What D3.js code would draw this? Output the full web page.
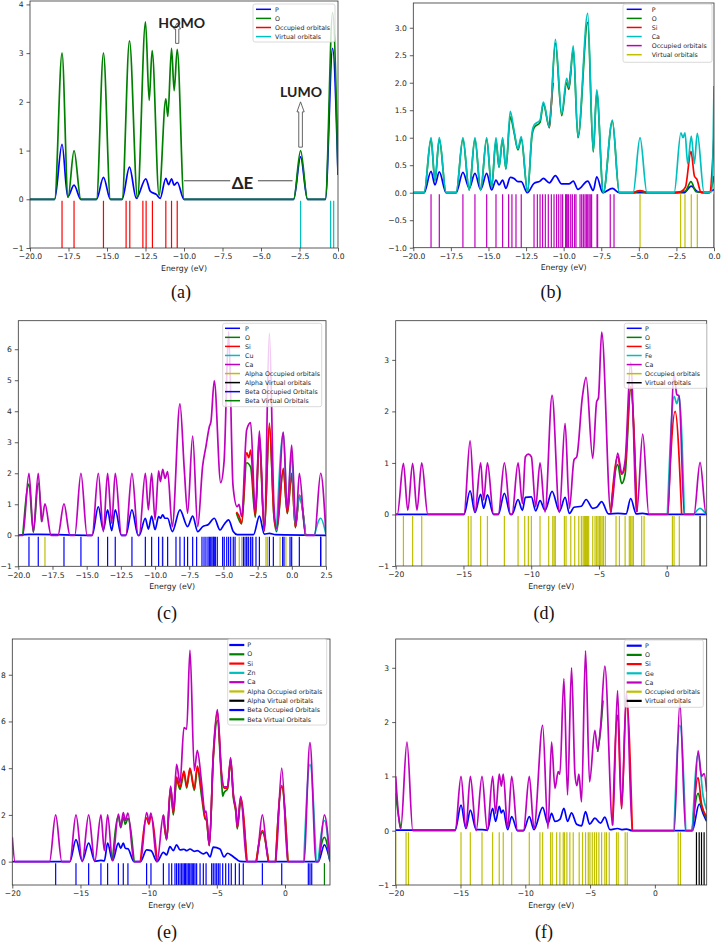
<!DOCTYPE html>
<html><head><meta charset="utf-8">
<script src="https://cdn.jsdelivr.net/npm/d3@7"></script>
<style>
body{margin:0;background:#fff;}
svg{display:block;font-family:"DejaVu Sans",sans-serif;}
</style></head><body>
<svg id="chart" width="721" height="942"></svg>
<script>
// ---------------- Panel (a) ----------------
const pA = [[-20,0],[-18.4,0],[-17.92,1.13],[-17.55,0.05],[-17.14,0.29],[-16.7,0],[-15.68,0],[-15.23,0.45],[-14.78,0],[-14.02,0],[-13.54,0.66],[-13.1,0.02],[-12.48,0.42],[-12.2,0.17],[-12.07,0.14],[-11.8,0.1],[-11.55,0.02],[-11.18,0.43],[-11.0,0.3],[-10.81,0.42],[-10.64,0.29],[-10.44,0.35],[-10.0,0],[-2.88,0],[-2.43,0.87],[-1.98,0],[-0.82,0],[-0.35,3.1],[0,0.5]];
const oA = [[-20,0],[-18.4,0],[-17.92,3.0],[-17.53,0.04],[-17.14,1.0],[-16.7,0],[-15.68,0],[-15.23,3.0],[-14.78,0],[-14.02,0],[-13.54,3.25],[-13.02,0.02],[-12.5,3.64],[-12.26,2.03],[-12.07,3.05],[-11.62,0.08],[-11.18,2.06],[-11.05,1.7],[-10.81,3.1],[-10.64,2.23],[-10.44,3.08],[-10.0,0],[-2.88,0],[-2.43,1.0],[-1.98,0],[-0.82,0],[-0.35,3.83],[0,0.5]];
const occA = [-17.92,-17.14,-15.23,-13.76,-13.52,-12.67,-12.46,-12.05,-11.18,-10.81,-10.44];
const virA = [-2.43,-0.48,-0.28];
const legendA = ["P","O","Occupied orbitals","Virtual orbitals"];
const xTicksA = [-20,-17.5,-15,-12.5,-10,-7.5,-5,-2.5,0];
const yTicksA = [-1,0,1,2,3,4];

// ---------------- Panel (b) ----------------
const pB = [[-20,0],[-19.28,0],[-18.82,0.39],[-18.56,0.14],[-18.27,0.38],[-17.82,0],[-17.15,0],[-16.7,0.37],[-16.28,0.08],[-15.9,0.35],[-15.52,0.06],[-15.12,0.35],[-14.79,0.05],[-14.5,0.23],[-14.3,0.14],[-14.06,0.23],[-13.84,0.08],[-13.55,0.28],[-13.3,0.26],[-13.04,0.2],[-12.82,0.2],[-12.42,0],[-11.97,0.17],[-11.57,0.21],[-11.35,0.26],[-10.95,0.18],[-10.55,0.31],[-10.13,0.16],[-9.65,0.16],[-9.36,0.21],[-9.05,0.06],[-8.4,0.21],[-8.03,0.04],[-7.8,0.29],[-7.4,0],[-6.76,0.08],[-6.3,0],[-2.0,0],[-1.51,0.12],[-1.1,0.02],[-0.5,0],[0,0.06]];
const oB = [[-20,0],[-19.28,0],[-18.82,0.97],[-18.56,0.22],[-18.27,0.97],[-17.82,0],[-17.15,0],[-16.7,0.97],[-16.28,0.05],[-15.9,0.97],[-15.52,0.05],[-15.12,0.97],[-14.79,0.1],[-14.5,0.95],[-14.3,0.46],[-14.06,0.97],[-13.84,0.43],[-13.55,1.38],[-13.3,1.1],[-13.04,0.78],[-12.82,0.98],[-12.4,0.02],[-12.1,1.05],[-11.97,1.18],[-11.57,1.28],[-11.35,1.62],[-10.95,1.18],[-10.55,2.72],[-10.13,1.4],[-9.8,2.0],[-9.65,1.88],[-9.36,2.62],[-9.05,1.0],[-8.4,3.1],[-8.03,0.74],[-7.8,1.82],[-7.36,0],[-6.76,1.3],[-6.3,0],[-5.38,0],[-4.92,0.03],[-4.46,0],[-2.6,0],[-1.9,0.03],[-1.53,0.2],[-1.2,0.02],[-0.3,0],[0,0.3]];
const siB = [[-10.95,1.2],[-10.7,2.0],null,[-9.65,1.9],[-9.5,2.3],null,[-5.38,0],[-4.92,0.04],[-4.46,0],null,[-2.65,0],[-2.2,0.02],[-1.9,0.1],[-1.53,0.75],[-1.3,0.3],[-1.15,0.25],[-0.85,0],[-0.3,0],[0,1.05]];
const caB = [[-20,0],[-19.28,0],[-18.82,1.0],[-18.56,0.23],[-18.27,1.0],[-17.82,0],[-17.15,0],[-16.7,1.0],[-16.28,0.05],[-15.9,1.0],[-15.52,0.05],[-15.12,1.0],[-14.79,0.1],[-14.5,1.0],[-14.3,0.47],[-14.06,1.0],[-13.84,0.44],[-13.55,1.48],[-13.3,1.13],[-13.04,0.8],[-12.82,1.02],[-12.4,0.02],[-12.1,1.1],[-11.97,1.23],[-11.57,1.32],[-11.35,1.65],[-10.95,1.2],[-10.55,2.79],[-10.13,1.44],[-9.8,2.08],[-9.65,1.92],[-9.36,2.67],[-9.05,1.02],[-8.4,3.26],[-8.03,0.76],[-7.8,1.87],[-7.36,0],[-6.76,1.32],[-6.3,0],[-5.38,0],[-4.92,1.0],[-4.46,0],[-2.65,0],[-2.2,1.09],[-2.06,1.0],[-1.93,1.09],[-1.75,0.53],[-1.51,1.03],[-1.31,0.53],[-1.11,1.08],[-0.66,0],[-0.15,0.02],[0,1.94]];
const occB = [-18.82,-18.27,-16.7,-15.9,-15.12,-14.5,-14.06,-13.66,-13.44,-13.17,-12.82,-11.97,-11.75,-11.57,-11.4,-11.22,-11.02,-10.82,-10.64,-10.47,-10.33,-10.18,-10.07,-9.87,-9.82,-9.76,-9.67,-9.53,-9.42,-9.27,-9.18,-8.91,-8.8,-8.69,-8.58,-8.49,-8.4,-8.31,-8.23,-8.14,-7.78,-7.74,-6.9,-6.65];
const virB = [-4.92,-2.22,-1.93,-1.51,-1.11,-0.02];
const legendB = ["P","O","Si","Ca","Occupied orbitals","Virtual orbitals"];
const xTicksB = [-20,-17.5,-15,-12.5,-10,-7.5,-5,-2.5,0];
const yTicksB = [-1,-0.5,0,0.5,1,1.5,2,2.5,3];

// ---------------- Panel (c) ----------------
const pC = [[-20,0],[-19.22,0.03],[-18.54,0.03],[-14.6,0],[-14.15,0.92],[-13.78,0.17],[-13.47,0.82],[-13.17,0.15],[-12.91,0.82],[-12.46,0],[-12.14,0],[-11.69,0.82],[-11.24,0],[-11.16,0],[-10.71,0.55],[-10.49,0.2],[-10.25,0.62],[-10.0,0.18],[-9.74,0.6],[-9.61,0.55],[-9.44,0.66],[-9.27,0.55],[-9.08,0.55],[-8.74,0.12],[-8.18,0.82],[-7.62,0.28],[-7.25,0.62],[-6.88,0.12],[-6.52,0.28],[-6.1,0.35],[-5.67,0.55],[-5.25,0.17],[-4.95,0.35],[-4.62,0.5],[-4.28,0.12],[-3.98,0.02],[-2.8,0.02],[-2.37,0.62],[-2.01,0.04],[-1.64,0.06],[-1.2,0.02],[2.5,0]];
const oC = [[-19.67,0],[-19.22,1.65],[-18.9,0.1],[-18.54,1.68],[-18.29,0.44],null,[-4.05,0.72],[-3.67,0.37],[-3.3,2.34],[-3.01,2.2],[-2.67,0.58],[-2.37,3.0],[-2.01,0.14],[-1.64,3.5],[-1.3,0.58],[-1.11,0.12],[-0.62,2.1],[-0.33,0.7],[-0.01,1.95],[0.26,0.25],[0.55,1.25],[1.0,0]];
const siC = [[-4.05,0.75],[-3.86,0.62],[-3.67,0.39],[-3.3,2.67],[-3.15,2.5],[-3.01,2.75],[-2.67,0.62],[-2.37,3.18],[-2.01,0.15],[-1.64,3.62],[-1.3,0.6],[-1.11,0.2],[-0.62,2.16],[-0.33,0.72],[-0.01,2.0],[0.26,0.25],[0.55,1.3],[1.0,0]];
const cuC = [[-1.11,0.15],[-0.62,3.3],[-0.33,0.9],[-0.01,2.6],[0.26,0.35],[0.55,1.27],[1.0,0],null,[1.66,0],[2.11,0.55],[2.5,0.02]];
const caC = [[-20,0],[-19.67,0],[-19.22,2.0],[-18.9,0.12],[-18.54,2.0],[-18.29,0.44],[-18.05,1.01],[-17.6,0],[-17.1,0],[-16.66,1.01],[-16.22,0],[-15.87,0],[-15.42,2.0],[-14.97,0],[-14.6,0],[-14.15,2.0],[-13.78,0.12],[-13.47,2.0],[-13.17,0.39],[-12.91,2.0],[-12.46,0],[-12.14,0],[-11.69,2.0],[-11.24,0],[-11.16,0],[-10.71,2.0],[-10.49,0.82],[-10.25,2.0],[-10.0,0.5],[-9.74,2.08],[-9.61,1.73],[-9.44,2.13],[-9.27,1.84],[-9.08,2.05],[-8.74,0.28],[-8.18,4.24],[-7.86,2.1],[-7.62,0.71],[-7.25,3.2],[-6.88,0.28],[-6.52,2.24],[-6.28,2.86],[-6.03,3.5],[-5.91,3.67],[-5.67,4.98],[-5.2,1.7],[-4.95,2.4],[-4.62,6.57],[-4.3,1.6],[-4.0,0.92],[-3.86,1.0],[-3.67,0.6],[-3.3,3.4],[-3.01,3.63],[-2.67,0.75],[-2.37,3.37],[-2.01,0.17],[-1.64,6.52],[-1.3,0.9],[-1.11,0.22],[-0.62,3.33],[-0.33,0.8],[-0.01,2.91],[0.3,0.32],[0.55,2.0],[1.0,0],[1.66,0],[2.11,2.0],[2.5,0.02]];
const alphaOccC = [-18.05,-9.47,-5.74,-3.84,-3.66,-3.3,-3.18,-3.06,-2.93,-1.89,-1.79,-0.86,-0.43];
const alphaVirC = [2.11];
const betaOccC = [-19.22,-18.54,-16.66,-15.42,-14.15,-13.47,-12.91,-11.69,-10.71,-10.25,-9.74,-9.44,-9.08,-8.47,-8.18,-7.86,-7.62,-7.25,-6.96,-6.57,-6.42,-6.28,-6.13,-6.03,-5.93,-5.84,-5.74,-5.67,-5.59,-5.45,-5.06,-4.94,-4.76,-4.62,-4.47,-4.28,-4.15,-3.54,-3.42,-3.3,-3.18,-3.01,-2.86,-2.62,-2.37,-1.64,-1.35,-0.67,-0.57,-0.13,-0.01,0.55,2.11];
const betaVirC = [];
const legendC = ["P","O","Si","Cu","Ca","Alpha Occupied orbitals","Alpha Virtual orbitals","Beta Occupied Orbitals","Beta Virtual Orbitals"];
const xTicksC = [-20,-17.5,-15,-12.5,-10,-7.5,-5,-2.5,0,2.5];
const yTicksC = [-1,0,1,2,3,4,5,6];

// ---------------- Panel (d) ----------------
const pD = [[-20,0],[-14.96,0],[-14.51,0.46],[-14.15,0.04],[-13.73,0.39],[-13.51,0.12],[-13.23,0.38],[-12.78,0],[-12.43,0],[-11.98,0.41],[-11.53,0],[-11.42,0],[-10.97,0.29],[-10.65,0.08],[-10.43,0.33],[-9.99,0.34],[-9.67,0.07],[-9.35,0.27],[-8.98,0.08],[-8.46,0.45],[-7.92,0.06],[-7.5,0.33],[-7.18,0.02],[-6.84,0.14],[-6.3,0.16],[-5.95,0.29],[-5.46,0.12],[-5.17,0.14],[-4.8,0.25],[-4.3,0.01],[-3.6,0.02],[-3.0,0.01],[-2.66,0.31],[-2.25,0.01],[-1.77,0.02],[-1.3,0],[2.95,0]];
const oD = [[-4.13,0.04],[-3.62,0.97],[-3.32,0.6],[-3.07,0.78],[-2.66,2.42],[-2.21,0.05]];
const siD = [[-4.13,0.04],[-3.62,1.12],[-3.32,0.78],[-3.07,0.95],[-2.66,2.48],[-2.21,0.05],null,[0.08,0],[0.62,2.0],[1.1,0]];
const feD = [[0.05,0],[0.55,2.29],[0.74,2.15],[0.91,2.29],[1.3,0],null,[2.01,0],[2.46,0.12],[2.91,0]];
const caD = [[-20,0],[-19.88,0],[-19.43,0.99],[-19.11,0.08],[-18.75,0.99],[-18.43,0.08],[-18.08,1.0],[-17.63,0],[-14.96,0],[-14.51,1.43],[-14.15,0.05],[-13.73,1.0],[-13.51,0.28],[-13.23,1.0],[-12.78,0],[-12.43,0],[-11.98,1.0],[-11.53,0],[-11.42,0],[-10.97,1.0],[-10.65,0.21],[-10.43,1.12],[-10.21,1.17],[-9.99,1.12],[-9.67,0.15],[-9.35,1.0],[-8.98,0.05],[-8.46,2.31],[-7.92,0.04],[-7.5,1.77],[-7.18,0.12],[-6.84,1.06],[-6.64,1.12],[-6.22,2.29],[-5.95,2.66],[-5.46,1.09],[-5.17,2.19],[-5.04,2.26],[-4.8,3.54],[-4.13,0.04],[-3.62,1.19],[-3.32,0.8],[-3.07,1.04],[-2.66,2.95],[-2.21,0.05],[-1.77,1.56],[-1.32,0],[0.05,0],[0.55,2.72],[0.74,2.33],[0.91,2.3],[1.3,0],[2.01,0],[2.46,1.01],[2.91,0],[2.95,0]];
const occD = [-19.43,-18.75,-18.08,-14.64,-14.44,-13.73,-13.23,-11.98,-10.97,-10.48,-10.21,-9.99,-9.35,-8.71,-8.41,-8.31,-8.22,-7.55,-7.43,-7.08,-6.79,-6.49,-6.3,-6.17,-6.08,-6.0,-5.93,-5.85,-5.76,-5.46,-5.29,-5.17,-5.07,-4.97,-4.87,-4.77,-4.67,-4.53,-3.74,-3.49,-3.07,-2.76,-2.66,-2.56,-2.46,-1.85,-1.67,0.42,0.54,0.93];
const virD = [2.46];
const legendD = ["P","O","Si","Fe","Ca","Occupied orbitals","Virtual orbitals"];
const xTicksD = [-20,-15,-10,-5,0];
const yTicksD = [-1,0,1,2,3];

// ---------------- Panel (e) ----------------
const pE = [[-20,0],[-15.78,0],[-15.33,0.94],[-14.87,0.02],[-14.4,0.79],[-13.95,0.02],[-13.5,0.05],[-13.25,0.03],[-13.01,0.79],[-12.65,0.04],[-12.22,0.79],[-12.05,0.57],[-11.86,0.79],[-11.71,0.57],[-11.52,0.55],[-11.07,0],[-10.6,0],[-10.15,0.5],[-9.83,0.47],[-9.38,0],[-8.92,0.4],[-8.68,0.29],[-8.44,0.64],[-8.19,0.47],[-7.95,0.72],[-7.7,0.5],[-7.41,0.53],[-7.21,0.47],[-6.97,0.54],[-6.65,0.44],[-6.43,0.47],[-5.99,0.33],[-5.75,0.4],[-5.5,0.2],[-5.26,0.62],[-4.77,0.54],[-4.47,0.2],[-4.21,0.36],[-3.91,0.26],[-3.55,0.1],[-3.3,0.01],[-2.8,0],[2.44,0],[2.89,0.72],[3.3,0.02]];
const oE = [[-12.65,0.05],[-12.22,1.95],[-12.05,1.45],[-11.86,1.9],[-11.71,1.6],[-11.52,1.85],[-11.07,0],null,[-8.92,1.95],[-8.68,0.93],[-8.39,3.1],[-8.19,2.0],[-7.95,3.5],[-7.7,3.09],[-7.41,3.8],[-7.21,3.15],[-6.97,3.95],[-6.65,3.05],[-6.43,4.0],[-6.11,2.76],[-5.87,1.85],[-5.75,1.75],[-5.55,0.69],[-5.26,4.4],[-4.96,6.05],[-4.65,3.4],[-4.57,2.8],[-4.47,2.95],[-4.21,3.12],[-3.99,4.3],[-3.79,2.75],[-3.59,2.05],[-3.5,1.4],[-3.25,2.55],[-2.8,0],null,[-2.11,0],[-1.66,1.25],[-1.21,0],null,[-0.69,0],[-0.24,3.2],[0.21,0],null,[2.44,0],[2.89,1.04],[3.3,0.02]];
const siE = [[-10.6,0],[-10.15,1.87],[-9.98,1.6],[-9.83,1.95],[-9.38,0],null,[-8.92,1.98],[-8.68,0.95],[-8.39,3.19],[-8.19,2.07],[-7.95,3.62],[-7.7,3.19],[-7.41,3.88],[-7.21,3.23],[-6.97,4.0],[-6.65,3.12],[-6.43,4.09],[-6.11,3.0],[-5.87,1.9],[-5.75,1.8],[-5.55,0.69],[-5.26,4.5],[-4.96,6.41],[-4.65,3.7],[-4.47,3.15],[-4.21,3.15],[-3.99,4.4],[-3.79,2.85],[-3.59,2.1],[-3.5,1.45],[-3.25,2.75],[-2.8,0],null,[-2.11,0],[-1.66,1.33],[-1.21,0],null,[-0.69,0],[-0.24,3.26],[0.21,0]];
const znE = [[1.38,0],[1.83,4.16],[2.28,0],null,[2.44,0],[2.89,1.76],[3.3,0.02]];
const caE = [[-20,1.04],[-19.8,0],[-17.27,0],[-16.82,2.0],[-16.37,0],[-15.78,0],[-15.33,2.0],[-14.87,0],[-14.4,2.0],[-13.95,0],[-13.5,2.0],[-13.25,0.47],[-13.01,2.0],[-12.65,0.05],[-12.22,2.04],[-12.05,1.5],[-11.86,2.1],[-11.71,1.76],[-11.52,2.08],[-11.07,0],[-10.6,0],[-10.15,2.1],[-9.98,1.76],[-9.83,2.08],[-9.38,0],[-8.92,2.0],[-8.68,0.97],[-8.39,3.23],[-8.19,2.19],[-7.95,4.16],[-7.7,3.36],[-7.41,5.74],[-7.21,5.67],[-6.97,9.06],[-6.65,3.9],[-6.43,4.76],[-6.11,3.33],[-5.87,2.1],[-5.79,2.16],[-5.55,0.69],[-5.26,4.62],[-4.96,6.51],[-4.65,3.76],[-4.47,3.2],[-4.21,3.2],[-3.99,4.45],[-3.79,2.9],[-3.59,2.19],[-3.5,1.5],[-3.25,2.8],[-2.8,0],[-2.11,0],[-1.66,2.0],[-1.21,0],[-0.69,0],[-0.24,4.0],[0.21,0],[1.38,0],[1.83,5.1],[2.28,0],[2.44,0],[2.89,2.0],[3.3,0.02]];
const alphaOccE = [];
const alphaVirE = [];
const betaOccE = [-16.82,-15.33,-14.4,-13.5,-13.01,-12.22,-11.86,-11.52,-10.15,-9.83,-8.92,-8.51,-8.31,-8.07,-7.95,-7.82,-7.7,-7.58,-7.48,-7.38,-7.29,-7.19,-7.09,-6.99,-6.89,-6.8,-6.7,-6.6,-6.48,-6.23,-5.99,-5.79,-5.38,-5.26,-5.13,-5.01,-4.89,-4.77,-4.57,-4.35,-4.13,-3.94,-3.64,-3.35,-3.06,-1.66,-0.24,1.71,1.83,1.96];
const betaVirE = [2.89];
const legendE = ["P","O","Si","Zn","Ca","Alpha Occupied orbitals","Alpha Virtual orbitals","Beta Occupied Orbitals","Beta Virtual Orbitals"];
const xTicksE = [-20,-15,-10,-5,0];
const yTicksE = [0,2,4,6,8];

// ---------------- Panel (f) ----------------
const pF = [[-20,0.01],[-15.41,0.01],[-14.96,0.47],[-14.58,0.04],[-14.24,0.38],[-13.79,0.02],[-13.34,0.02],[-12.93,0.01],[-12.52,0.41],[-12.29,0.17],[-12.01,0.45],[-11.85,0.33],[-11.7,0.38],[-11.36,0.02],[-11.05,0.26],[-10.6,0],[-10.14,0],[-9.69,0.26],[-9.33,0.02],[-8.66,0.43],[-8.25,0.13],[-7.97,0.32],[-7.71,0.17],[-7.33,0.21],[-7.02,0.41],[-6.74,0.17],[-6.43,0.33],[-6.04,0.12],[-5.66,0.09],[-5.35,0.35],[-5.04,0.12],[-4.63,0.23],[-4.19,0.14],[-3.86,0.25],[-3.47,0.02],[-2.88,0.04],[-2.57,0.02],[-2.19,0.03],[-1.74,0],[2.89,0],[3.42,0.49],[3.73,0.31],[4.0,0.17]];
const oF = [[-20,0.69],[-19.8,0.3],[-19.61,0.04],null,[-4.42,1.45],[-4.19,1.85],[-4.0,2.4],null,[2.89,0],[3.34,0.69],[3.6,0.45],[4.0,0.22]];
const siF = [[-3.26,0.1],[-2.88,2.13],[-2.57,0.4],[-2.19,2.45],[-1.74,0],null,[2.89,0],[3.34,0.98],[3.6,0.5],[4.0,0.26]];
const geF = [[1.48,0],[1.93,1.94],[2.38,0],null,[2.89,0],[3.34,1.42],[3.73,0.63],[4.0,0.38]];
const caF = [[-20,1.0],[-19.61,0.04],[-19.13,1.63],[-18.68,0],[-15.41,0],[-14.96,1.0],[-14.58,0.04],[-14.24,1.0],[-13.79,0],[-13.34,1.0],[-12.93,0],[-12.52,1.0],[-12.29,0.32],[-12.01,1.04],[-11.85,0.82],[-11.7,1.04],[-11.36,0.04],[-11.05,1.0],[-10.6,0],[-10.14,0],[-9.69,1.0],[-9.33,0.04],[-8.66,1.94],[-8.25,0.04],[-7.97,1.63],[-7.71,0.78],[-7.46,1.09],[-7.33,1.04],[-7.02,2.8],[-6.74,0.66],[-6.43,3.0],[-6.17,1.05],[-6.02,0.83],[-5.86,1.04],[-5.66,0.53],[-5.35,3.31],[-5.04,0.9],[-4.63,1.85],[-4.42,1.48],[-4.19,1.91],[-3.86,3.03],[-3.26,0.1],[-2.88,2.58],[-2.57,0.41],[-2.19,2.56],[-1.74,0],[1.48,0],[1.93,2.35],[2.38,0],[2.89,0],[3.34,1.47],[3.6,1.0],[3.8,1.05],[4.0,0.72]];
const occF = [-20.0,-19.2,-19.02,-14.96,-14.24,-13.34,-12.52,-12.01,-11.7,-11.05,-9.69,-8.87,-8.66,-8.05,-7.92,-7.58,-7.33,-7.07,-6.97,-6.79,-6.56,-6.3,-5.84,-5.58,-5.35,-5.14,-5.01,-4.83,-4.65,-4.5,-4.32,-4.11,-3.86,-3.73,-3.52,-2.96,-2.83,-2.29,-2.13,1.8,1.98];
const virF = [3.21,3.42,3.6,3.8];
const legendF = ["P","O","Si","Ge","Ca","Occupied orbitals","Virtual orbitals"];
const xTicksF = [-20,-15,-10,-5,0];
const yTicksF = [-1,0,1,2,3];

// colours (matplotlib single-letter colours)
const C = {b:"#0000ff", g:"#008000", r:"#ff0000", c:"#00bfbf", m:"#bf00bf", y:"#bfbf00", k:"#000000"};

const svg = d3.select("#chart");
const f1 = d3.format(".1f"), fd = d3.format("d");

function drawPanel(p){
  const g = svg.append("g");
  const x = d3.scaleLinear().domain(p.xDomain).range([p.l, p.r]);
  const y = d3.scaleLinear().domain(p.yDomain).range([p.b, p.t]);
  const cid = "clip_" + p.name;
  svg.append("clipPath").attr("id", cid).append("rect")
    .attr("x", p.l).attr("y", p.t).attr("width", p.r - p.l).attr("height", p.b - p.t);
  const plot = g.append("g").attr("clip-path", `url(#${cid})`);
  p.orbitals.forEach(o => {
    plot.selectAll(null).data(o.data).enter().append("line")
      .attr("x1", d => x(d)).attr("x2", d => x(d))
      .attr("y1", y(-1)).attr("y2", y(0) + 1.5)
      .attr("stroke", o.color).attr("stroke-width", 1.2);
  });
  const line = d3.line().defined(d => d !== null)
    .x(d => x(d[0])).y(d => y(d[1])).curve(d3.curveMonotoneX);
  p.curves.forEach(c => {
    plot.append("path").datum(c.data).attr("d", line)
      .attr("fill", "none").attr("stroke", c.color)
      .attr("stroke-width", 1.7).attr("stroke-linejoin", "round");
  });
  const ax = g.append("g").attr("transform", `translate(0,${p.b})`)
    .call(d3.axisBottom(x).tickValues(p.xTicks).tickFormat(p.xFmt).tickSizeOuter(0).tickSize(3.5).tickPadding(2.5));
  const ay = g.append("g").attr("transform", `translate(${p.l},0)`)
    .call(d3.axisLeft(y).tickValues(p.yTicks).tickFormat(p.yFmt).tickSizeOuter(0).tickSize(3.5).tickPadding(3));
  [ax, ay].forEach(a => {
    a.select(".domain").remove();
    a.selectAll(".tick line").attr("stroke", "#333").attr("stroke-width", 0.8);
    a.selectAll(".tick text").attr("fill", "#262626").style("font-size", "7.6px").style("font-family", "DejaVu Sans");
  });
  g.append("rect").attr("x", p.l).attr("y", p.t).attr("width", p.r - p.l).attr("height", p.b - p.t)
    .attr("fill", "none").attr("stroke", "#333").attr("stroke-width", 0.8);
  g.append("text").attr("x", (p.l + p.r) / 2).attr("y", p.b + 22.5)
    .attr("text-anchor", "middle").style("font-size", "7.8px").attr("fill", "#262626").text("Energy (eV)");
  const L = p.legend;
  const lg = g.append("g");
  lg.append("rect").attr("x", L.x).attr("y", L.y).attr("width", L.w).attr("height", L.h).attr("rx", 2)
    .attr("fill", "#fff").attr("fill-opacity", 0.8).attr("stroke", "#d0d0d0").attr("stroke-width", 0.8);
  L.labels.forEach((t, i) => {
    const yy = L.y + L.first + i * L.step;
    lg.append("line").attr("x1", L.x + L.s0).attr("x2", L.x + L.s0 + 15).attr("y1", yy).attr("y2", yy)
      .attr("stroke", L.colors[i]).attr("stroke-width", L.lw);
    lg.append("text").attr("x", L.x + L.tx).attr("y", yy).attr("dy", "0.35em")
      .style("font-size", "6.3px").attr("fill", "#262626").text(t);
  });
  svg.append("text").attr("x", p.capX).attr("y", p.capY).attr("text-anchor", "middle")
    .style("font-family", "'Liberation Serif', serif").style("font-size", "18px").attr("fill", "#111").text(p.caption);
  return {x, y, g};
}

// ----- panel (a)
const A = drawPanel({name:"a", l:30, r:338, t:1, b:248, xDomain:[-20,0], yDomain:[-1,4.07],
  xTicks:xTicksA, xFmt:f1, yTicks:yTicksA, yFmt:fd,
  orbitals:[{data:occA, color:C.r},{data:virA, color:C.c}],
  curves:[{data:pA, color:C.b},{data:oA, color:C.g}],
  legend:{x:253, y:4, w:82, h:38, first:5.3, step:9.1, s0:3, tx:22, lw:1.5, labels:legendA, colors:[C.b,C.g,C.r,C.c]},
  caption:"(a)", capX:181, capY:298});

function hollowArrow(g, x, yTail, yTip, bw, hw, hl){
  const pts = [[x-bw,yTail],[x-bw,yTip+hl],[x-hw,yTip+hl],[x,yTip],[x+hw,yTip+hl],[x+bw,yTip+hl],[x+bw,yTail]];
  g.append("path").attr("d", d3.line()(pts) + "Z").attr("fill", "#fff").attr("stroke", "#555").attr("stroke-width", 0.9);
}
hollowArrow(A.g, A.x(-10.44), A.y(3.2), A.y(3.62), 1.6, 3.4, 6);
hollowArrow(A.g, A.x(-2.43), A.y(1.07), A.y(2.0), 1.8, 3.6, 10);
A.g.append("text").attr("x", A.x(-10.15)).attr("y", A.y(3.51)).attr("text-anchor", "middle")
  .style("font-family", "Lato, 'Open Sans', sans-serif").style("font-weight", "bold").style("font-size", "14px").attr("fill", "#222").text("HOMO");
A.g.append("text").attr("x", A.x(-2.4)).attr("y", A.y(2.1)).attr("text-anchor", "middle")
  .style("font-family", "Lato, 'Open Sans', sans-serif").style("font-weight", "bold").style("font-size", "14px").attr("fill", "#222").text("LUMO");
A.g.append("text").attr("x", A.x(-6.2)).attr("y", A.y(0.22)).attr("text-anchor", "middle")
  .style("font-family", "Lato, 'Open Sans', sans-serif").style("font-weight", "bold").style("font-size", "17px").attr("fill", "#222").text("ΔE");
A.g.append("line").attr("x1", A.x(-10.0)).attr("x2", A.x(-7.0)).attr("y1", A.y(0.38)).attr("y2", A.y(0.38)).attr("stroke", "#333").attr("stroke-width", 0.9);
A.g.append("line").attr("x1", A.x(-5.2)).attr("x2", A.x(-2.95)).attr("y1", A.y(0.38)).attr("y2", A.y(0.38)).attr("stroke", "#333").attr("stroke-width", 0.9);

// ----- panel (b)
drawPanel({name:"b", l:413.3, r:714, t:3, b:247.7, xDomain:[-20,0], yDomain:[-1,3.45],
  xTicks:xTicksB, xFmt:f1, yTicks:yTicksB, yFmt:f1,
  orbitals:[{data:occB, color:C.m},{data:virB, color:C.y}],
  curves:[{data:pB, color:C.b},{data:oB, color:C.g},{data:siB, color:C.r},{data:caB, color:C.c}],
  legend:{x:623, y:4, w:89, h:58.3, first:5.3, step:9.08, s0:3.7, tx:28.7, lw:1.5, labels:legendB, colors:[C.b,C.g,C.r,C.c,C.m,C.y]},
  caption:"(b)", capX:551, capY:298});

// ----- panel (c)
drawPanel({name:"c", l:18.3, r:326, t:320.7, b:566.3, xDomain:[-20,2.5], yDomain:[-1,6.92],
  xTicks:xTicksC, xFmt:f1, yTicks:yTicksC, yFmt:fd,
  orbitals:[{data:alphaOccC, color:C.y},{data:alphaVirC, color:C.k},{data:betaOccC, color:C.b},{data:betaVirC, color:C.g}],
  curves:[{data:pC, color:C.b},{data:oC, color:C.g},{data:siC, color:C.r},{data:cuC, color:C.c},{data:caC, color:C.m}],
  legend:{x:222.7, y:323.3, w:99, h:83.4, first:5, step:9.05, s0:2.3, tx:22.3, lw:1.5, labels:legendC, colors:[C.b,C.g,C.r,C.c,C.m,C.y,C.k,C.b,C.g]},
  caption:"(c)", capX:167, capY:618.5});

// ----- panel (d)
drawPanel({name:"d", l:395.7, r:706.7, t:320.7, b:566, xDomain:[-20,2.95], yDomain:[-1,3.76],
  xTicks:xTicksD, xFmt:fd, yTicks:yTicksD, yFmt:fd,
  orbitals:[{data:occD, color:C.y},{data:virD, color:C.k}],
  curves:[{data:pD, color:C.b},{data:oD, color:C.g},{data:siD, color:C.r},{data:feD, color:C.c},{data:caD, color:C.m}],
  legend:{x:624.3, y:323.3, w:82.4, h:65, first:5, step:9.07, s0:2.4, tx:20.7, lw:1.5, labels:legendD, colors:[C.b,C.g,C.r,C.c,C.m,C.y,C.k]},
  caption:"(d)", capX:544, capY:618.5});

// ----- panel (e)
drawPanel({name:"e", l:12.3, r:330, t:639, b:885, xDomain:[-20,3.3], yDomain:[-1,9.53],
  xTicks:xTicksE, xFmt:fd, yTicks:yTicksE, yFmt:fd,
  orbitals:[{data:alphaOccE, color:C.y},{data:alphaVirE, color:C.k},{data:betaOccE, color:C.b},{data:betaVirE, color:C.g}],
  curves:[{data:pE, color:C.b},{data:oE, color:C.g},{data:siE, color:C.r},{data:znE, color:C.c},{data:caE, color:C.m}],
  legend:{x:227.7, y:639, w:99, h:86, first:6, step:9.29, s0:1.6, tx:19.6, lw:2.2, labels:legendE, colors:[C.b,C.g,C.r,C.c,C.m,C.y,C.k,C.b,C.g]},
  caption:"(e)", capX:167, capY:938});

// ----- panel (f)
drawPanel({name:"f", l:395.7, r:706.7, t:639, b:885, xDomain:[-20,4.0], yDomain:[-1,3.53],
  xTicks:xTicksF, xFmt:fd, yTicks:yTicksF, yFmt:fd,
  orbitals:[{data:occF, color:C.y},{data:virF, color:C.k}],
  curves:[{data:pF, color:C.b},{data:oF, color:C.g},{data:siF, color:C.r},{data:geF, color:C.c},{data:caF, color:C.m}],
  legend:{x:624.3, y:640, w:79, h:67.3, first:5.7, step:9.2, s0:2.4, tx:20.7, lw:2.2, labels:legendF, colors:[C.b,C.g,C.r,C.c,C.m,C.y,C.k]},
  caption:"(f)", capX:544, capY:938});
</script>
</body></html>
